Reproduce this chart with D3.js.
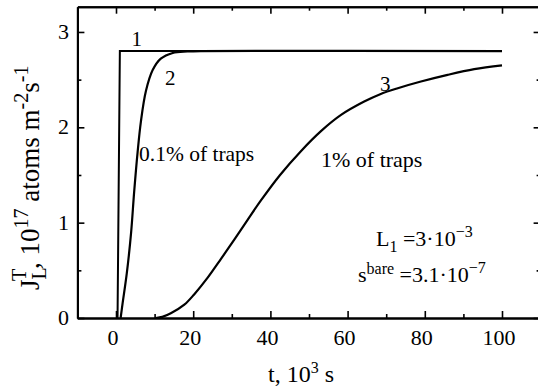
<!DOCTYPE html>
<html>
<head>
<meta charset="utf-8">
<script src="https://cdn.jsdelivr.net/npm/d3@7"></script>
</head>
<body style="margin:0">
<svg id="chart" width="538" height="392"></svg>
<script>
// Time in 10^3 s, flux in 10^17 atoms m^-2 s^-1
const curve1 = [[0.4, 0], [1.0, 2.8], [100, 2.8]];
const curve2 = [
  [1.2, 0], [1.7, 0.15], [2.8, 0.47], [3.9, 0.89], [4.7, 1.32], [5.6, 1.74],
  [6.45, 2.06], [7.75, 2.38], [9.5, 2.6], [11.6, 2.72], [14.7, 2.78],
  [18.5, 2.795], [22, 2.8], [100, 2.8]
];
const curve3 = [
  [10.3, 0], [12, 0.012], [14.2, 0.05], [17.7, 0.14], [20.3, 0.25], [23.7, 0.42],
  [27.2, 0.62], [30.6, 0.82], [34.1, 1.03], [37.5, 1.23], [42.5, 1.5],
  [47.9, 1.75], [53.1, 1.96], [58.3, 2.13], [64.3, 2.27], [68.6, 2.35],
  [73, 2.41], [79, 2.48], [85.9, 2.55], [92.8, 2.61], [100, 2.65]
];
const xMajorTicks = [0, 20, 40, 60, 80, 100];
const xMinorTicks = [10, 30, 50, 70, 90];
const yMajorTicks = [0, 1, 2, 3];
const yMinorTicks = [0.5, 1.5, 2.5];

const FONT = "Liberation Serif";
const svg = d3.select("#chart");
const x = d3.scaleLinear().domain([-10, 110]).range([77.4, 540.6]);
const y = d3.scaleLinear().domain([0, 3.265]).range([318, 6.7]);

const L = x.range()[0], R = x.range()[1], B = y.range()[0], T = y.range()[1];

// Axes with inward ticks on all four sides
function styleAxis(g) {
  g.selectAll("path.domain").attr("stroke", "#000").attr("stroke-width", 2);
  g.selectAll(".tick line").attr("stroke", "#000").attr("stroke-width", 1.6);
  g.selectAll(".tick text").remove();
}
const axes = [
  [d3.axisBottom(x).tickValues(xMajorTicks).tickSizeInner(-7).tickSizeOuter(0), `translate(0,${B})`],
  [d3.axisBottom(x).tickValues(xMinorTicks).tickSizeInner(-4).tickSizeOuter(0), `translate(0,${B})`],
  [d3.axisTop(x).tickValues(xMajorTicks).tickSizeInner(-7).tickSizeOuter(0), `translate(0,${T})`],
  [d3.axisTop(x).tickValues(xMinorTicks).tickSizeInner(-4).tickSizeOuter(0), `translate(0,${T})`],
  [d3.axisLeft(y).tickValues(yMajorTicks).tickSizeInner(-7).tickSizeOuter(0), `translate(${L},0)`],
  [d3.axisLeft(y).tickValues(yMinorTicks).tickSizeInner(-4).tickSizeOuter(0), `translate(${L},0)`],
  [d3.axisRight(y).tickValues(yMajorTicks).tickSizeInner(-7).tickSizeOuter(0), `translate(${R},0)`],
  [d3.axisRight(y).tickValues(yMinorTicks).tickSizeInner(-4).tickSizeOuter(0), `translate(${R},0)`]
];
axes.forEach(([ax, tr]) => {
  svg.append("g").attr("transform", tr).call(ax).call(styleAxis);
});

// Serif text helper
function label(px, py, str, size, anchor) {
  return svg.append("text")
    .attr("x", px).attr("y", py)
    .attr("font-family", FONT)
    .attr("font-size", size)
    .attr("text-anchor", anchor || "start")
    .text(str);
}

// Tick labels
xMajorTicks.forEach(v => label(x(v) - 3, 345, String(v), 22, "middle"));
yMajorTicks.forEach(v => label(69, y(v) + 7, String(v), 22, "end"));

// Curves
const line = d3.line().x(d => x(d[0])).y(d => y(d[1]));
const smooth = d3.line().x(d => x(d[0])).y(d => y(d[1])).curve(d3.curveCatmullRom.alpha(0.5));
svg.append("path").attr("d", line(curve1))
  .attr("fill", "none").attr("stroke", "#000").attr("stroke-width", 2);
svg.append("path").attr("d", smooth(curve2))
  .attr("fill", "none").attr("stroke", "#000").attr("stroke-width", 2.2);
svg.append("path").attr("d", smooth(curve3))
  .attr("fill", "none").attr("stroke", "#000").attr("stroke-width", 2.2);

// Curve annotations
label(131.5, 46, "1", 21);
label(165, 85, "2", 21);
label(380, 91, "3", 21);
label(139, 161, "0.1% of traps", 21.5);
label(321, 167, "1% of traps", 22);

// Parameter block
const p1 = svg.append("text")
  .attr("x", 376).attr("y", 246)
  .attr("font-family", FONT)
  .attr("font-size", 22);
p1.append("tspan").text("L");
p1.append("tspan").attr("font-size", 16).attr("dy", 6).text("1");
p1.append("tspan").attr("dy", -6).text(" =3\u00b710");
p1.append("tspan").attr("font-size", 16).attr("dy", -9).text("\u22123");

const p2 = svg.append("text")
  .attr("x", 358).attr("y", 282)
  .attr("font-family", FONT)
  .attr("font-size", 22);
p2.append("tspan").text("s");
p2.append("tspan").attr("font-size", 16).attr("dy", -8).text("bare");
p2.append("tspan").attr("dy", 8).text(" =3.1\u00b710");
p2.append("tspan").attr("font-size", 16).attr("dy", -9).text("\u22127");

// X axis title
const xt = svg.append("text")
  .attr("x", 268).attr("y", 382)
  .attr("font-family", FONT)
  .attr("font-size", 24);
xt.append("tspan").text("t, 10");
xt.append("tspan").attr("font-size", 16).attr("dy", -9).text("3");
xt.append("tspan").attr("dy", 9).text(" s");

// Y axis title (rotated)
const yt = svg.append("text")
  .attr("transform", `translate(39,290) rotate(-90)`)
  .attr("font-family", FONT)
  .attr("font-size", 27);
yt.append("tspan").text("J");
yt.append("tspan").attr("font-size", 20).attr("dy", 7).text("L");
yt.append("tspan").attr("font-size", 20).attr("dx", -12).attr("dy", -20).text("T");
yt.append("tspan").attr("dy", 13).text(", 10");
yt.append("tspan").attr("font-size", 20).attr("dy", -11).text("17");
yt.append("tspan").attr("dy", 11).text(" atoms m");
yt.append("tspan").attr("font-size", 20).attr("dy", -11).text("-2");
yt.append("tspan").attr("dy", 11).text("s");
yt.append("tspan").attr("font-size", 20).attr("dy", -11).text("-1");
</script>
</body>
</html>
